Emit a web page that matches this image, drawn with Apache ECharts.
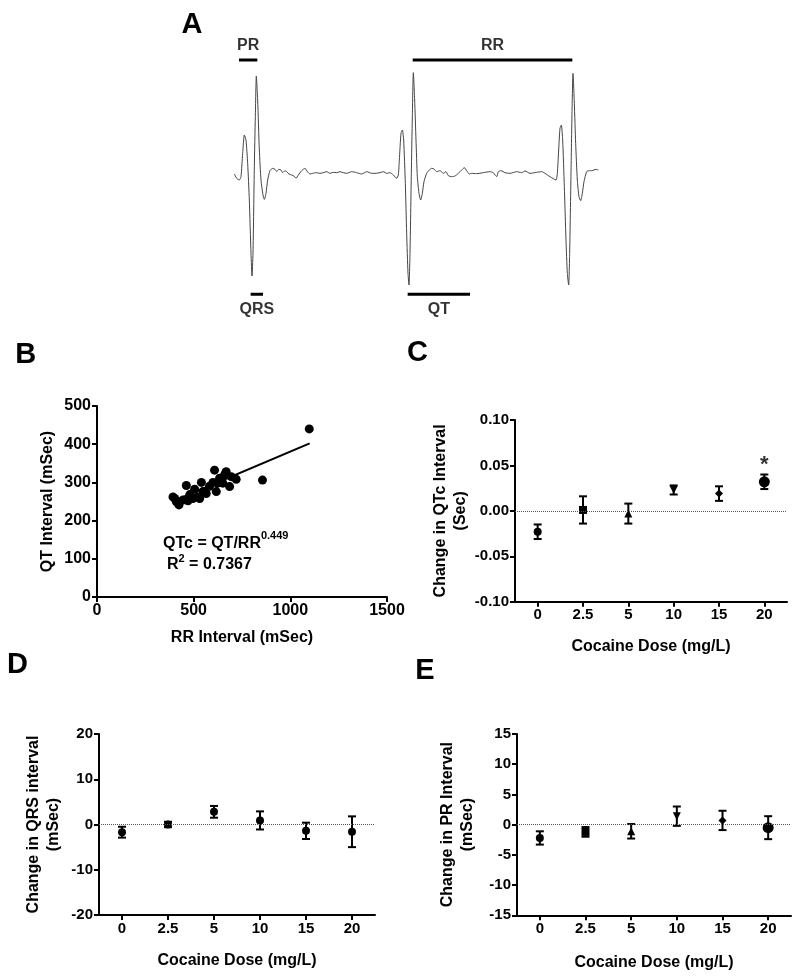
<!DOCTYPE html>
<html><head><meta charset="utf-8">
<script src="https://cdn.jsdelivr.net/npm/echarts@6/dist/echarts.min.js"></script>
<style>html,body{margin:0;padding:0;background:#fff}#c{width:800px;height:976px}</style>
</head><body><div id="c"></div>
<script>
// ---------- DATA ----------
// Panel A: ECG trace (time units, amplitude units)
const ecgT = [193,200,208,213,218,223,228,233,238,243,246,249,253,256,259,263,268,273,279,283,288,293,300,308,315,320,326,333,338,345,350,357,365,372,378,385,395,405,412,420,428,440,450,460,470,480,490,500,510,520,530,545,560,575,590,605,615,630,640,650,660,670,680,685,688,693,697,701,706,710,714,717,720,724,727,730,734,738,742,747,752,757,762,770,778,785,792,800,810,820,828,835,845,855,865,875,883,890,898,905,920,940,960,970,975,980,985,993,1005,1020,1040,1055,1065,1080,1100,1115,1125,1140,1158,1162,1166,1170,1174,1178,1183,1188,1192,1196,1199,1203,1206,1209,1213,1217,1222,1227,1232,1237,1242,1250,1258,1265,1272,1278,1285];
const ecgV = [-2,-15,-20,-10,60,115,100,30,-80,-240,-308,-240,20,170,292,220,70,-20,-65,-78,-60,-20,8,15,12,5,12,10,2,8,5,-2,-5,-8,-15,-5,8,15,5,-2,0,2,0,2,5,0,3,2,5,2,0,5,2,-2,5,0,0,2,5,0,2,-5,-15,-5,40,120,130,100,-30,-180,-300,-335,-240,0,170,302,220,100,-10,-60,-80,-60,-25,0,10,15,13,5,8,0,5,-7,-10,-8,0,10,17,8,-2,0,-1,2,5,2,-5,-10,5,8,2,0,5,2,7,0,3,5,0,-10,-20,0,70,135,145,100,-40,-200,-300,-335,-240,0,180,300,210,90,-20,-70,-82,-60,-25,5,8,8,10,12,10];
const intervalNames = ['PR','RR','QRS','QT'];
const intervalStart = [207,728,242,713];
const intervalEnd   = [262,1207,279,900];
const intervalLevel = [340,340,-363,-363];
const labelLevel    = [383,383,-410,-410];

// Panel B: QT vs RR scatter
const rrVals = [393,402,411,424,445,462,471,480,496,505,522,531,540,548,565,582,600,608,617,625,634,643,651,660,668,686,694,720,856,1098];
const qtVals = [262,258,249,241,254,292,252,268,258,282,262,258,300,276,271,290,300,332,276,298,311,306,298,320,328,289,315,308,306,440];
const fitRR = [400,1100];
const fitQT = [252,402];

// Panels C-E: dose response
const doses = ['0','2.5','5','10','15','20'];
const qtcMean = [-0.023,0.001,-0.003,0.023,0.019,0.032];
const qtcSem  = [0.008,0.015,0.011,0.005,0.008,0.008];
const qrsMean = [-1.7,0.0,2.8,0.9,-1.4,-1.6];
const qrsSem  = [1.2,0.6,1.3,2.0,1.8,3.4];
const prMean  = [-2.2,-1.2,-1.1,1.4,0.7,-0.5];
const prSem   = [1.1,0.8,1.2,1.6,1.6,1.9];
const doseSymbols = ['circle','rect','triangle','triangle','diamond','circle'];
const doseRotate  = [0,0,0,180,0,0];
const doseSizes   = [8,8,8,8,8,11];

// ---------- STYLE ----------
const FF = '"Liberation Sans", Arial, sans-serif';
const chart = echarts.init(document.getElementById('c'));

function axisCommon(extra){
  return Object.assign({
    axisLine:{show:true,onZero:false,lineStyle:{color:'#000',width:2}},
    axisTick:{show:true,length:5,lineStyle:{color:'#000',width:2}},
    axisLabel:{color:'#000',fontWeight:'bold',fontSize:15,fontFamily:FF,margin:6},
    splitLine:{show:false},
    nameTextStyle:{color:'#000',fontWeight:'bold',fontSize:16,fontFamily:FF,lineHeight:20},
    nameLocation:'middle'
  }, extra);
}
function errRender(params, api){
  const x = api.value(0), m = api.value(1), e = api.value(2);
  const t = api.coord([x, m+e]), b = api.coord([x, m-e]);
  const w = 4, st = {stroke:'#000', lineWidth:2};
  return {type:'group', children:[
    {type:'line', shape:{x1:t[0],y1:t[1],x2:b[0],y2:b[1]}, style:st},
    {type:'line', shape:{x1:t[0]-w,y1:t[1],x2:t[0]+w,y2:t[1]}, style:st},
    {type:'line', shape:{x1:b[0]-w,y1:b[1],x2:b[0]+w,y2:b[1]}, style:st}
  ]};
}
function dosePanel(idx, mean, sem, symbols){
  return [
    {type:'custom', xAxisIndex:idx, yAxisIndex:idx, renderItem:errRender,
     data: mean.map((m,i)=>[i,m,sem[i]]), z:3,
     markLine:{silent:true, symbol:'none', label:{show:false},
       lineStyle:{type:'dotted', color:'#555', width:1}, data:[{yAxis:0}]}},
    {type:'scatter', xAxisIndex:idx, yAxisIndex:idx, z:4,
     itemStyle:{color:'#000', opacity:1},
     data: mean.map((m,i)=>({value:[i,m],
        symbol: symbols ? doseSymbols[i] : 'circle',
        symbolRotate: symbols ? doseRotate[i] : 0,
        symbolSize: symbols ? doseSizes[i] : 8}))}
  ];
}

const lineData = ecgT.map((t,i)=>[t,ecgV[i]]);
const barSeries = intervalNames.map((n,i)=>({
  type:'line', xAxisIndex:0, yAxisIndex:0, symbol:'none', silent:true,
  lineStyle:{color:'#000', width:3},
  data:[[intervalStart[i],intervalLevel[i]],[intervalEnd[i],intervalLevel[i]]]
}));
const catTick = {show:true,alignWithLabel:true,length:5,lineStyle:{color:'#000',width:2}};

const option = {
  animation:false,
  backgroundColor:'#fff',
  grid:[
    {left:234.33, top:40, width:364, height:280},
    {left:97, top:406, width:290, height:191},
    {left:515, top:420, width:272, height:181.7},
    {left:99, top:734, width:276, height:181},
    {left:517, top:734, width:274, height:181.3}
  ],
  xAxis:[
    {gridIndex:0, type:'value', min:193, max:1285, show:false},
    axisCommon({gridIndex:1, type:'value', min:0, max:1500, interval:500,
       axisLabel:{color:'#000',fontWeight:'bold',fontSize:16,fontFamily:FF,margin:6,formatter:v=>String(v)},
       name:'RR Interval (mSec)', nameGap:31}),
    axisCommon({gridIndex:2, type:'category', data:doses, boundaryGap:true, axisTick:catTick,
       name:'Cocaine Dose (mg/L)', nameGap:35}),
    axisCommon({gridIndex:3, type:'category', data:doses, boundaryGap:true, axisTick:catTick,
       name:'Cocaine Dose (mg/L)', nameGap:36}),
    axisCommon({gridIndex:4, type:'category', data:doses, boundaryGap:true, axisTick:catTick,
       name:'Cocaine Dose (mg/L)', nameGap:37})
  ],
  yAxis:[
    {gridIndex:0, type:'value', min:-440, max:400, show:false},
    axisCommon({gridIndex:1, type:'value', min:0, max:500, interval:100,
       axisLabel:{color:'#000',fontWeight:'bold',fontSize:16,fontFamily:FF,margin:6},
       name:'QT Interval (mSec)', nameGap:39}),
    axisCommon({gridIndex:2, type:'value', min:-0.1, max:0.1, interval:0.05,
       axisLabel:{color:'#000',fontWeight:'bold',fontSize:15,fontFamily:FF,margin:6,formatter:v=>v.toFixed(2)},
       name:'Change in QTc Interval\n(Sec)', nameGap:39}),
    axisCommon({gridIndex:3, type:'value', min:-20, max:20, interval:10,
       name:'Change in QRS interval\n(mSec)', nameGap:35}),
    axisCommon({gridIndex:4, type:'value', min:-15, max:15, interval:5,
       name:'Change in PR Interval\n(mSec)', nameGap:39})
  ],
  series:[
    {type:'line', xAxisIndex:0, yAxisIndex:0, data:lineData, symbol:'none',
     smooth:0.2, lineStyle:{color:'#444', width:1}, silent:true},
    ...barSeries,
    {type:'scatter', xAxisIndex:0, yAxisIndex:0, symbolSize:0, silent:true,
     data: intervalNames.map((n,i)=>({value:[(intervalStart[i]+intervalEnd[i])/2, labelLevel[i]], name:n})),
     label:{show:true, position:'inside', formatter:p=>p.name, color:'#000',
        fontWeight:'bold', fontSize:16, fontFamily:FF}},
    {type:'scatter', xAxisIndex:1, yAxisIndex:1, symbolSize:9, itemStyle:{color:'#000', opacity:1},
     data: rrVals.map((r,i)=>[r,qtVals[i]])},
    {type:'line', xAxisIndex:1, yAxisIndex:1, symbol:'none', lineStyle:{color:'#000', width:2},
     data: fitRR.map((r,i)=>[r,fitQT[i]])},
    ...dosePanel(2, qtcMean, qtcSem, true),
    {type:'scatter', xAxisIndex:2, yAxisIndex:2, symbolSize:0, silent:true,
     data:[{value:[5,0.05], name:'*'}],
     label:{show:true, position:'inside', formatter:'*', color:'#000', fontSize:22, fontWeight:'bold', fontFamily:FF}},
    ...dosePanel(3, qrsMean, qrsSem, false),
    ...dosePanel(4, prMean, prSem, true)
  ],
  graphic:[
    ...[['A',192,24.5],['B',25.8,355],['C',417.5,352.5],['D',17.5,665],['E',425,671]].map(a=>({
      type:'text', x:a[1], y:a[2], style:{text:a[0], fill:'#000', font:'bold 29px '+FF,
        textAlign:'center', textVerticalAlign:'middle'}})),
    {type:'text', left:163, top:530, style:{
      text:'{a|QTc = QT/RR}{s|0.449}', rich:{
        a:{fontSize:16, fontWeight:'bold', fontFamily:FF, fill:'#000', verticalAlign:'bottom', lineHeight:22},
        s:{fontSize:11, fontWeight:'bold', fontFamily:FF, fill:'#000', verticalAlign:'top', lineHeight:22}}}},
    {type:'text', left:167, top:553, style:{
      text:'{a|R}{s|2}{a| = 0.7367}', rich:{
        a:{fontSize:16, fontWeight:'bold', fontFamily:FF, fill:'#000', verticalAlign:'bottom', lineHeight:20},
        s:{fontSize:11, fontWeight:'bold', fontFamily:FF, fill:'#000', verticalAlign:'top', lineHeight:20}}}}
  ]
};
chart.setOption(option);
</script></body></html>
